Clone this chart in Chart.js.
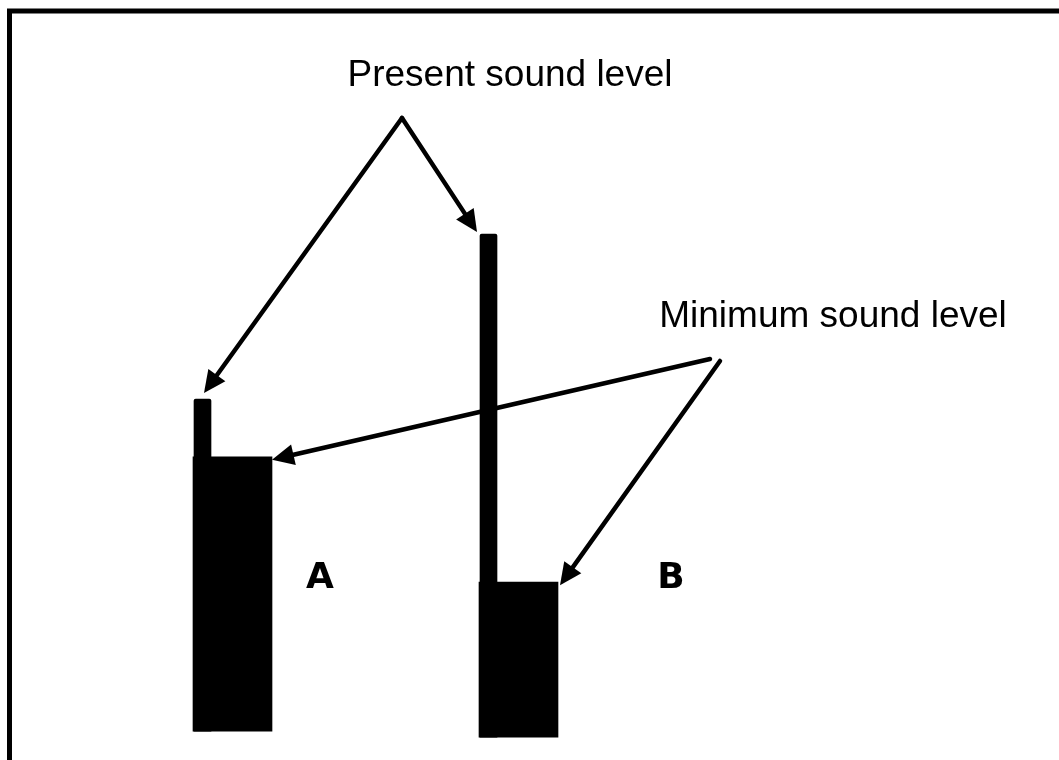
<!DOCTYPE html>
<html>
<head>
<meta charset="utf-8">
<script src="https://cdn.jsdelivr.net/npm/chart.js@4.4.1/dist/chart.umd.min.js"></script>
<style>
  html, body { margin: 0; padding: 0; background: #fff; }
  #wrap { position: relative; width: 1059px; height: 760px; }
</style>
</head>
<body>
<div id="wrap"><canvas id="levelChart"></canvas></div>
<script>
const categories = ["A", "B"];
const presentLevel = [47.5, 69.2];
const minimumLevel = [39.9, 23.4];
const baseLevel = [3.8, 3.0];
const presentText = "Present sound level";
const minimumText = "Minimum sound level";

const ctx = document.getElementById("levelChart").getContext("2d");

/* x scale: 286px per category, first category at 232.5px */
const xMin = -232.5 / 286;
const xMax = (1059 - 232.5) / 286;
const thinShift = 30 / 286;

const arrow = (c, x1, y1, x2, y2) => {
  const dx = x2 - x1, dy = y2 - y1;
  const len = Math.hypot(dx, dy);
  const ux = dx / len, uy = dy / len;
  const head = 22, half = 10.5;
  c.beginPath();
  c.moveTo(x1, y1);
  c.lineTo(x2 - ux * head * 0.8, y2 - uy * head * 0.8);
  c.stroke();
  c.beginPath();
  c.moveTo(x2, y2);
  c.lineTo(x2 - ux * head - uy * half, y2 - uy * head + ux * half);
  c.lineTo(x2 - ux * head + uy * half, y2 - uy * head - ux * half);
  c.closePath();
  c.fill();
};

const diagram = {
  id: "diagram",
  beforeDraw(chart) {
    const c = chart.ctx;
    c.save();
    c.fillStyle = "#fff";
    c.fillRect(0, 0, chart.width, chart.height);
    c.strokeStyle = "#000";
    c.lineWidth = 5;
    c.beginPath();
    c.moveTo(9.5, chart.height);
    c.lineTo(9.5, 11);
    c.lineTo(chart.width, 11);
    c.stroke();
    c.restore();
  },
  afterDatasetsDraw(chart) {
    const c = chart.ctx;
    const wide = chart.getDatasetMeta(0).data;
    const thin = chart.getDatasetMeta(1).data;
    c.save();
    c.strokeStyle = "#000";
    c.fillStyle = "#000";
    c.lineWidth = 4.5;
    c.lineCap = "round";

    // present level arrows
    arrow(c, 402, 118, thin[0].x + 1.5, thin[0].y - 6);
    arrow(c, 402, 118, thin[1].x - thin[1].width / 2 - 3, thin[1].y - 2);
    // minimum level arrows
    arrow(c, 710, 359, wide[0].x + wide[0].width / 2, wide[0].y + 3);
    arrow(c, 720, 361, wide[1].x + wide[1].width / 2 + 2, wide[1].y + 3);

    c.textAlign = "center";
    c.textBaseline = "alphabetic";
    c.font = '37px "Liberation Sans", Arial, sans-serif';
    c.fillText(presentText, 510, 86);
    c.fillText(minimumText, 833, 327);

    c.font = 'bold 36px "DejaVu Sans", sans-serif';
    const labelX = [320, 671];
    categories.forEach((cat, i) => c.fillText(cat, labelX[i], 588));
    c.restore();
  }
};

const chart = new Chart(ctx, {
  type: "bar",
  data: {
    datasets: [
      {
        label: "Minimum sound level",
        data: categories.map((c, i) => ({ x: i, y: [baseLevel[i], minimumLevel[i]] })),
        backgroundColor: "#000",
        barThickness: 79,
        grouped: false,
        xAxisID: "x",
        clip: false
      },
      {
        label: "Present sound level",
        data: categories.map((c, i) => ({ x: i, y: [baseLevel[i], presentLevel[i]] })),
        backgroundColor: "#000",
        barThickness: 17,
        borderRadius: { topLeft: 2, topRight: 2 },
        borderSkipped: "bottom",
        grouped: false,
        xAxisID: "x2",
        clip: false
      }
    ]
  },
  options: {
    responsive: true,
    maintainAspectRatio: false,
    animation: false,
    layout: { padding: 0 },
    plugins: {
      legend: { display: false },
      tooltip: { enabled: false }
    },
    scales: {
      x: { type: "linear", offset: false, min: xMin, max: xMax, display: false },
      x2: { type: "linear", offset: false, min: xMin + thinShift, max: xMax + thinShift, display: false },
      y: { type: "linear", min: 0, max: 100, display: false }
    }
  },
  plugins: [diagram]
});
</script>
</body>
</html>
